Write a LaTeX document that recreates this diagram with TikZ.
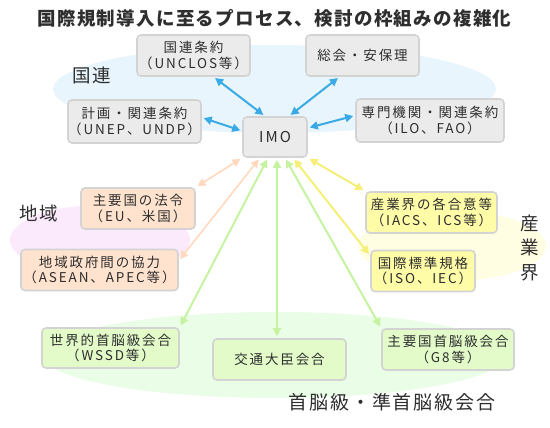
\documentclass[tikz,border=0pt]{standalone}
\usepackage{fontspec}
\setmainfont{Noto Sans CJK JP}
\newfontfamily\boxfont[LetterSpace=14]{Noto Sans CJK JP}
\newfontfamily\labelfont[LetterSpace=10]{Noto Sans CJK JP}
\newfontfamily\titlefont[LetterSpace=7]{Noto Sans CJK JP}
\usetikzlibrary{arrows.meta}

\definecolor{unblue}{HTML}{3AAAE6}
\definecolor{peachline}{HTML}{FFD8BE}
\definecolor{greenline}{HTML}{C5F3A0}
\definecolor{yellowline}{HTML}{F5EF78}
\definecolor{boxgray}{HTML}{EBEBEB}
\definecolor{boxline}{HTML}{D3D3D3}
\definecolor{peachbox}{HTML}{FFE3CE}
\definecolor{yellowbox}{HTML}{FFFCA8}
\definecolor{greenbox}{HTML}{E2FBC9}
\definecolor{txt}{HTML}{2E2E2E}
\definecolor{unarea}{HTML}{E9F5FC}
\definecolor{regionarea}{HTML}{FBE9FC}
\definecolor{industryarea}{HTML}{FFFDE2}
\definecolor{summitarea}{HTML}{EAFDE6}

\begin{document}
\begin{tikzpicture}[x=1pt, y=-1pt,
    box/.style={draw=boxline, line width=1.6pt, rounded corners=4pt, inner sep=0pt,
      align=center, text=txt, font=\boxfont\fontsize{13.5}{15.5}\selectfont},
    graybox/.style={box, fill=boxgray},
    peachbx/.style={box, fill=peachbox},
    yellowbx/.style={box, fill=yellowbox},
    greenbx/.style={box, fill=greenbox},
    grouplabel/.style={text=txt, inner sep=0pt, font=\labelfont\fontsize{18.5}{24.5}\selectfont},
    link/.style={<->, >={Triangle[length=8pt,width=8pt]}, shorten <=2pt, shorten >=2pt},
    barrow/.style={link, draw=unblue, fill=unblue, line width=2pt},
    parrow/.style={link, draw=peachline, fill=peachline, line width=1.6pt},
    garrow/.style={link, draw=greenline, fill=greenline, line width=2pt},
    yarrow/.style={link, draw=yellowline, fill=yellowline, line width=2pt}]
  \useasboundingbox (0,0) rectangle (550,428);

  % background areas
  \fill[unarea] (274.5,89) ellipse [x radius=221.5, y radius=44];
  \fill[regionarea] (100,240) ellipse [x radius=90, y radius=35];
  \fill[industryarea] (452,246) ellipse [x radius=94, y radius=35];
  \fill[summitarea] (274.5,355) ellipse [x radius=232, y radius=43];

  % title and group labels
  \node[text=txt, font=\titlefont\bfseries\fontsize{18.5}{22}\selectfont] (title) at (274.5,18)
    {国際規制導入に至るプロセス、検討の枠組みの複雑化};
  \node[grouplabel] (lblun) at (92,75) {国連};
  \node[grouplabel] (lblregion) at (39,213.5) {地域};
  \node[grouplabel, align=center] (lblindustry) at (530,248) {産\\業\\界};
  \node[grouplabel, font=\labelfont\fontsize{19}{24}\selectfont] (lblsummit) at (392,402)
    {首脳級・準首脳級会合};

  % IMO and the frameworks round it
  \node[graybox, minimum width=64, minimum height=40, font=\boxfont\fontsize{15}{17}\selectfont] (imo) at (275,137) {IMO};
  \node[graybox, minimum width=113, minimum height=41] (unclos) at (193.5,55.5) {国連条約\\（UNCLOS等）};
  \node[graybox, minimum width=113, minimum height=41] (soukai) at (362.5,55.5) {総会・安保理};
  \node[graybox, minimum width=133, minimum height=43] (keikaku) at (134.5,121.5) {計画・関連条約\\（UNEP、UNDP）};
  \node[graybox, minimum width=148, minimum height=43] (senmon) at (430,120.5) {専門機関・関連条約\\（ILO、FAO）};
  \node[peachbx, minimum width=114, minimum height=41] (eulaw) at (138,208.5) {主要国の法令\\（EU、米国）};
  \node[peachbx, minimum width=157, minimum height=41] (asean) at (99.5,270) {地域政府間の協力\\（ASEAN、APEC等）};
  \node[yellowbx, minimum width=131, minimum height=41] (iacs) at (431.5,212.5) {産業界の各合意等\\（IACS、ICS等）};
  \node[yellowbx, minimum width=104, minimum height=41] (iso) at (423,271) {国際標準規格\\（ISO、IEC）};
  \node[greenbx, minimum width=137, minimum height=40] (wssd) at (110.5,348) {世界的首脳級会合\\（WSSD等）};
  \node[greenbx, minimum width=133, minimum height=41] (kotsu) at (279.5,359.5) {交通大臣会合};
  \node[greenbx, minimum width=132, minimum height=41] (g8) at (448,349.5) {主要国首脳級会合\\（G8等）};

  % connectors: UN
  \draw[barrow] ([xshift=20]unclos.south) -- ([xshift=-10]imo.north);
  \draw[barrow] ([xshift=-23]soukai.south) -- ([xshift=14]imo.north);
  \draw[barrow] ([yshift=4]keikaku.east) -- ([yshift=6]imo.west);
  \draw[barrow] ([yshift=9]imo.east) -- ([yshift=5]senmon.west);
  % connectors: region
  \draw[parrow] (imo.south west) -- (eulaw.north east);
  \draw[parrow] ([xshift=-15]imo.south) -- ([yshift=-12]asean.north east);
  % connectors: summits
  \draw[garrow] ([xshift=-7]imo.south) -- (wssd.north east);
  \draw[garrow] ([xshift=2]imo.south) -- ([xshift=-2.5]kotsu.north);
  \draw[garrow] ([xshift=10]imo.south) -- (g8.north west);
  % connectors: industry
  \draw[yarrow] (imo.south east) -- (iacs.north west);
  \draw[yarrow] ([xshift=18]imo.south) -- ([yshift=-6]iso.north west);
\end{tikzpicture}
\end{document}
